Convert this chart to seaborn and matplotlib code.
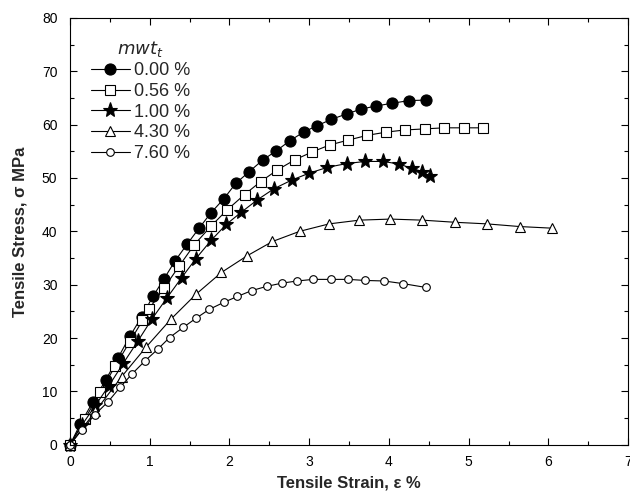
import matplotlib
matplotlib.use("Agg")
import matplotlib.pyplot as plt
import seaborn as sns
import numpy as np
import pandas as pd
from matplotlib.ticker import MultipleLocator

sns.set_style("ticks")
plt.rcParams['font.family'] = ['Liberation Sans', 'DejaVu Sans']

labels = ["0.00 %", "0.56 %", "1.00 %", "4.30 %", "7.60 %"]

x0 = [0, 0.13, 0.29, 0.45, 0.60, 0.75, 0.90, 1.04, 1.18, 1.32, 1.47, 1.62, 1.77, 1.93,
      2.08, 2.25, 2.42, 2.59, 2.76, 2.93, 3.10, 3.28, 3.47, 3.65, 3.84, 4.04, 4.25, 4.46]
y0 = [0, 3.9, 8.1, 12.2, 16.2, 20.3, 24.0, 27.8, 31.1, 34.5, 37.6, 40.6, 43.5, 46.1,
      49.0, 51.2, 53.4, 55.1, 57.0, 58.6, 59.8, 61.0, 62.0, 62.9, 63.5, 64.0, 64.5, 64.6]

x1 = [0, 0.19, 0.38, 0.57, 0.75, 0.91, 0.99, 1.18, 1.37, 1.56, 1.77, 1.97, 2.19, 2.39,
      2.60, 2.82, 3.04, 3.26, 3.49, 3.73, 3.97, 4.20, 4.45, 4.69, 4.94, 5.18]
y1 = [0, 4.9, 9.9, 14.8, 19.3, 23.3, 25.4, 29.4, 33.5, 37.5, 41.0, 44.0, 46.9, 49.3,
      51.5, 53.4, 54.9, 56.2, 57.1, 58.0, 58.6, 59.0, 59.2, 59.4, 59.4, 59.4]

x2 = [0, 0.15, 0.32, 0.49, 0.67, 0.85, 1.03, 1.22, 1.40, 1.58, 1.77, 1.96, 2.15, 2.35,
      2.56, 2.78, 3.00, 3.23, 3.47, 3.70, 3.93, 4.13, 4.29, 4.42, 4.52]
y2 = [0, 3.7, 7.4, 11.1, 15.3, 19.4, 23.6, 27.6, 31.3, 34.9, 38.3, 41.3, 43.6, 45.9,
      48.0, 49.6, 50.9, 52.0, 52.7, 53.1, 53.1, 52.6, 51.8, 51.2, 50.3]

x3 = [0, 0.32, 0.65, 0.96, 1.27, 1.58, 1.90, 2.22, 2.54, 2.88, 3.25, 3.63, 4.02, 4.42,
      4.83, 5.23, 5.64, 6.04]
y3 = [0, 6.3, 12.8, 18.4, 23.6, 28.2, 32.3, 35.4, 38.1, 40.0, 41.4, 42.1, 42.3, 42.1,
      41.7, 41.4, 40.9, 40.6]

x4 = [0, 0.15, 0.31, 0.48, 0.63, 0.78, 0.94, 1.10, 1.25, 1.42, 1.58, 1.75, 1.93, 2.10,
      2.28, 2.47, 2.66, 2.85, 3.05, 3.27, 3.49, 3.70, 3.94, 4.18, 4.46]
y4 = [0, 2.8, 5.6, 8.1, 10.8, 13.3, 15.7, 17.9, 20.1, 22.0, 23.7, 25.4, 26.7, 27.8,
      28.9, 29.7, 30.3, 30.7, 31.0, 31.0, 31.0, 30.8, 30.7, 30.2, 29.5]

xs = [x0, x1, x2, x3, x4]
ys = [y0, y1, y2, y3, y4]

styles = [
    dict(marker="o", markersize=8, markerfacecolor="black"),
    dict(marker="s", markersize=7, markerfacecolor="white"),
    dict(marker="*", markersize=11, markerfacecolor="black"),
    dict(marker="^", markersize=6.5, markerfacecolor="white"),
    dict(marker="o", markersize=5.5, markerfacecolor="white"),
]

fig = plt.figure(figsize=(6.3, 4.97), dpi=100)
ax = fig.add_axes([0.111, 0.105, 0.886, 0.859])

for xv, yv, lab, st in zip(xs, ys, labels, styles):
    df = pd.DataFrame({"x": xv, "y": yv})
    sns.lineplot(data=df, x="x", y="y", ax=ax, color="black", linewidth=0.8,
                 sort=False, estimator=None, label=lab, clip_on=False,
                 markeredgecolor="black", markeredgewidth=0.8, **st)

ax.set_xlim(0, 7)
ax.set_ylim(0, 80)
ax.xaxis.set_major_locator(MultipleLocator(1))
ax.xaxis.set_minor_locator(MultipleLocator(0.5))
ax.yaxis.set_major_locator(MultipleLocator(10))
ax.yaxis.set_minor_locator(MultipleLocator(5))
ax.tick_params(which="both", direction="in", top=True, right=True, labelsize=10,
               width=0.8, colors="black")
ax.tick_params(which="major", length=5)
ax.tick_params(which="minor", length=3)
ax.tick_params(axis="y", which="major", pad=9)
ax.tick_params(axis="x", which="major", pad=7)
for sp in ax.spines.values():
    sp.set_linewidth(0.8)
    sp.set_color("black")

ax.set_xlabel("Tensile Strain, ε %", fontsize=12, fontweight="bold", labelpad=5)
ax.set_ylabel("Tensile Stress, σ MPa", fontsize=12, fontweight="bold", labelpad=10)

leg = ax.legend(loc="upper left", bbox_to_anchor=(0.024, 0.968), frameon=False,
                title="$mwt_t$", fontsize=13, title_fontsize=13,
                handlelength=2.2, handletextpad=0.2, labelspacing=0.2,
                borderaxespad=0)

fig.savefig("out.png", dpi=100)
